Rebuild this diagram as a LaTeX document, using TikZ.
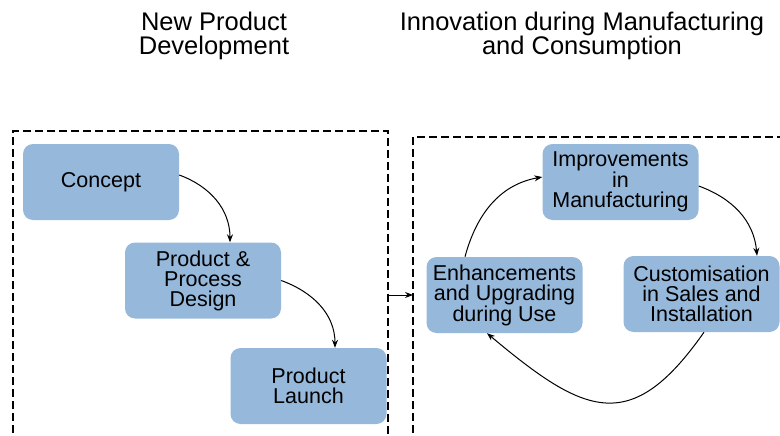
\documentclass[tikz,border=0pt]{standalone}
\usepackage{fontspec}
\setmainfont{Liberation Sans}
\usetikzlibrary{arrows.meta}
\definecolor{boxblue}{RGB}{149,184,219}
\tikzset{
  stagebox/.style={fill=boxblue, rounded corners=10pt, minimum width=156pt, minimum height=76pt,
    align=center, inner sep=0pt, font=\fontsize{21.5}{20}\selectfont},
  titletext/.style={align=center, inner sep=0pt, font=\fontsize{25.5}{24.5}\selectfont},
  frame/.style={dash pattern=on 8pt off 4pt, line width=1.5pt},
  flow/.style={-{Stealth[length=8pt,width=6pt]}, line width=1pt},
}
\begin{document}
\begin{tikzpicture}[x=1pt,y=-1pt]
\useasboundingbox (0,0) rectangle (780,436);
% titles
\node[titletext] (t1) at (214,36) {New Product\\Development};
\node[titletext] (t2) at (582,36) {Innovation during Manufacturing\\and Consumption};
% frames
\draw[frame] (13,445) -- (13,131) -- (388,131) -- (388,445);
\draw[frame] (413,445) -- (413,137) -- (790,137);
\coordinate (lb) at (388,295);
\coordinate (rb) at (413,295);
% nodes
\node[stagebox] (concept) at (101,182) {Concept};
\node[stagebox] (design) at (203,280.5) {Product \&\\Process\\Design};
\node[stagebox] (launch) at (308.5,386) {Product\\Launch};
\node[stagebox] (improv) at (620.5,182) {Improvements\\in\\Manufacturing};
\node[stagebox] (enh) at (504.5,295) {Enhancements\\and Upgrading\\during Use};
\node[stagebox] (cust) at (701.5,294) {Customisation\\in Sales and\\Installation};
% connectors
\draw[flow] ([yshift=7pt]concept.east) to[out=-20,in=90] ([xshift=27pt]design.north);
\draw[flow] (design.east) to[out=-20,in=90] ([xshift=26.5pt]launch.north);
\draw[flow] ([yshift=-4pt]improv.east) to[out=-20,in=95] ([xshift=55.5pt]cust.north);
\draw[flow] ([xshift=-39.5pt]enh.north) to[out=75,in=190] ([yshift=5pt]improv.west);
\draw[flow] ([xshift=2.5pt]cust.south) to[out=-125,in=-40,looseness=1.5] ([xshift=-17.5pt]enh.south);
\draw[flow] (lb) -- (rb);
\end{tikzpicture}
\end{document}
